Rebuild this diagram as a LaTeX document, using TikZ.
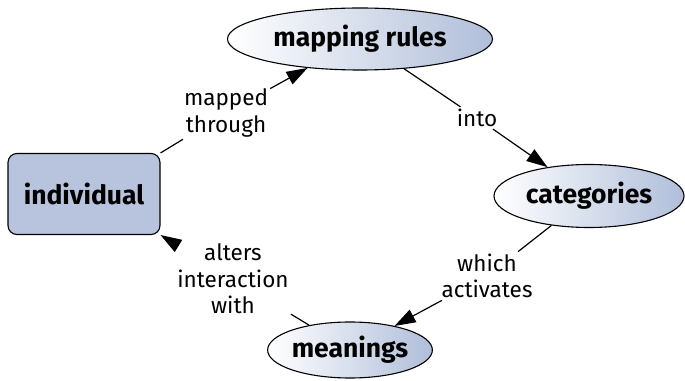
\documentclass[tikz,border=0pt]{standalone}
\usepackage{fontspec}
\setmainfont{Fira Sans}
\usetikzlibrary{shapes.geometric,arrows.meta}
\definecolor{nodeblue}{RGB}{184,196,222}
\definecolor{ellblue}{RGB}{176,190,218}
\tikzset{
  ell/.style={ellipse, draw=black, line width=1.1pt, left color=white, right color=ellblue, inner sep=0pt, font=\fontsize{26.5}{30}\selectfont\bfseries},
  box/.style={rectangle, rounded corners=9pt, draw=black, line width=1.1pt, fill=nodeblue, minimum width=152pt, minimum height=81pt, font=\fontsize{26.5}{30}\selectfont\bfseries},
  lab/.style={align=center, inner sep=2pt, font=\fontsize{22.5}{26.5}\selectfont},
  conn/.style={line width=1.2pt, draw=black},
  arr/.style={conn, -{Triangle[length=21pt,width=14pt]}}
}
\begin{document}
\begin{tikzpicture}[x=1pt,y=1pt]
\useasboundingbox (0,0) rectangle (685,380);
\node[ell, minimum width=265pt, minimum height=62pt] (map) at (360,341) {mapping rules};
\node[ell, minimum width=190pt, minimum height=63pt] (cat) at (589,184) {categories};
\node[ell, minimum width=164pt, minimum height=56pt] (mean) at (350,30) {meanings};
\node[box] (ind) at (84,186) {individual};
\node[lab] (l1) at (226,267) {mapped\\through};
\node[lab] (l2) at (477,262) {into};
\node[lab] (l3) at (487,104) {which\\activates};
\node[lab] (l4) at (233,101) {alters\\interaction\\with};
\draw[conn] (ind.north east) -- (l1);
\draw[arr] (l1) -- (map);
\draw[conn] (map) -- (l2);
\draw[arr] (l2) -- (cat);
\draw[conn] (cat) -- (l3);
\draw[arr] (l3) -- (mean);
\draw[conn] (mean) -- (l4);
\draw[arr] (l4) -- (ind.south east);
\end{tikzpicture}
\end{document}
